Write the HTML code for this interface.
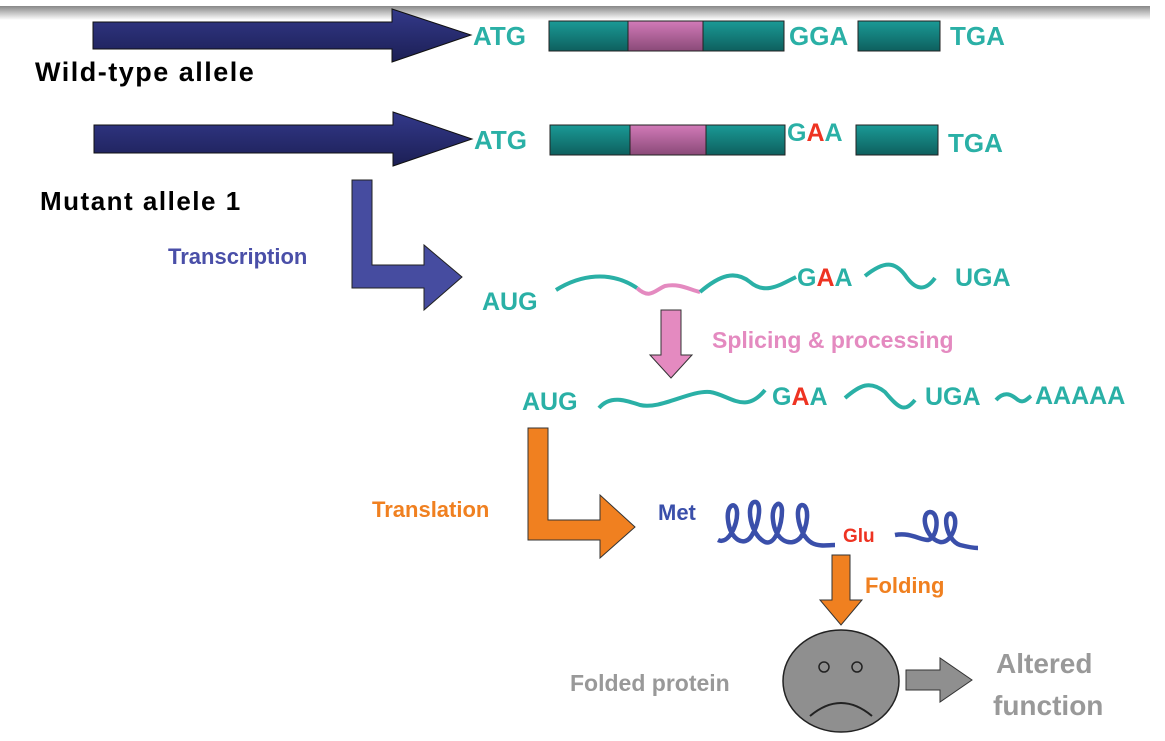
<!DOCTYPE html>
<html><head><meta charset="utf-8"><style>
html,body{margin:0;padding:0;background:#fff;width:1165px;height:741px;overflow:hidden}
svg text{font-family:"Liberation Sans",sans-serif;font-weight:bold}
</style></head><body>
<svg width="1165" height="741" viewBox="0 0 1165 741" xmlns="http://www.w3.org/2000/svg">
<defs>
<linearGradient id="sh" x1="0" y1="0" x2="0" y2="1"><stop offset="0" stop-color="#888"/><stop offset="1" stop-color="#fff"/></linearGradient>
<linearGradient id="tl" x1="0" y1="0" x2="0" y2="1"><stop offset="0" stop-color="#1a9a96"/><stop offset="1" stop-color="#0e5f5e"/></linearGradient>
<linearGradient id="pk" x1="0" y1="0" x2="0" y2="1"><stop offset="0" stop-color="#d27ab8"/><stop offset="1" stop-color="#8a4a78"/></linearGradient>
<linearGradient id="nv" x1="0" y1="0" x2="0" y2="1"><stop offset="0" stop-color="#33398a"/><stop offset="1" stop-color="#1c1f55"/></linearGradient>
</defs>
<rect x="0" y="6" width="1150" height="14" fill="url(#sh)"/>
<polygon points="93,22 392,22 392,9 471,35 392,62 392,49 93,49" fill="url(#nv)" stroke="#111" stroke-width="1"/>
<text x="473" y="45" font-size="26" fill="#2ab0a6">ATG</text>
<rect x="549" y="21" width="235" height="30" fill="url(#tl)" stroke="#222"/>
<rect x="628" y="21" width="75" height="30" fill="url(#pk)" stroke="#222"/>
<text x="789" y="45" font-size="26" fill="#2ab0a6">GGA</text>
<rect x="858" y="21" width="82" height="30" fill="url(#tl)" stroke="#222"/>
<text x="950" y="45" font-size="26" fill="#2ab0a6">TGA</text>
<text x="35" y="81" font-size="27" letter-spacing="1.5" fill="#000">Wild-type allele</text>
<polygon points="94,125 393,125 393,112 472,139 393,166 393,153 94,153" fill="url(#nv)" stroke="#111" stroke-width="1"/>
<text x="474" y="149" font-size="26" fill="#2ab0a6">ATG</text>
<rect x="550" y="125" width="235" height="30" fill="url(#tl)" stroke="#222"/>
<rect x="630" y="125" width="76" height="30" fill="url(#pk)" stroke="#222"/>
<text x="787" y="141" font-size="25" fill="#2ab0a6">G<tspan fill="#ee3322">A</tspan>A</text>
<rect x="856" y="125" width="82" height="30" fill="url(#tl)" stroke="#222"/>
<text x="948" y="152" font-size="26" fill="#2ab0a6">TGA</text>
<text x="40" y="210" font-size="26" letter-spacing="1.5" fill="#000">Mutant allele 1</text>
<polygon points="352,180 372,180 372,265 424,265 424,245 462,277 424,310 424,288 352,288" fill="#464ca0" stroke="#222"/>
<text x="168" y="264" font-size="22" fill="#4a4fa8">Transcription</text>
<text x="482" y="310" font-size="25" fill="#2ab0a6">AUG</text>
<path d="M556,290 C580,275 610,270 637,288" fill="none" stroke="#2ab0a6" stroke-width="4"/>
<path d="M637,288 C650,300 655,290 665,286 C680,283 690,290 700,292" fill="none" stroke="#e48ac0" stroke-width="4"/>
<path d="M700,292 C720,275 735,270 750,282 C765,295 780,285 796,277" fill="none" stroke="#2ab0a6" stroke-width="4"/>
<text x="797" y="286" font-size="25" fill="#2ab0a6">G<tspan fill="#ee3322">A</tspan>A</text>
<path d="M865,276 C885,260 895,262 905,275 C915,290 925,292 935,278" fill="none" stroke="#2ab0a6" stroke-width="4"/>
<text x="955" y="286" font-size="25" fill="#2ab0a6">UGA</text>
<polygon points="661,310 681,310 681,355 692,355 671,378 650,355 661,355" fill="#e48ac0" stroke="#333"/>
<text x="712" y="348" font-size="23" fill="#e48ac0">Splicing &amp; processing</text>
<text x="522" y="410" font-size="25" fill="#2ab0a6">AUG</text>
<path d="M599,408 C610,395 625,400 640,405 C660,410 690,390 710,392 C730,395 745,415 765,390" fill="none" stroke="#2ab0a6" stroke-width="4"/>
<text x="772" y="405" font-size="25" fill="#2ab0a6">G<tspan fill="#ee3322">A</tspan>A</text>
<path d="M845,398 C860,385 870,380 885,392 C900,410 905,412 915,400" fill="none" stroke="#2ab0a6" stroke-width="4"/>
<text x="925" y="405" font-size="25" fill="#2ab0a6">UGA</text>
<path d="M996,400 C1005,390 1012,395 1018,400 C1024,404 1028,398 1031,396" fill="none" stroke="#2ab0a6" stroke-width="4"/>
<text x="1035" y="404" font-size="25" fill="#2ab0a6">AAAAA</text>
<polygon points="528,428 548,428 548,520 600,520 600,495 635,527 600,558 600,540 528,540" fill="#f08020" stroke="#333"/>
<text x="372" y="517" font-size="22" fill="#f08020">Translation</text>
<text x="658" y="520" font-size="22" fill="#3a4faa">Met</text>
<path d="M718,540 C728,545 738,525 737,512 C736,500 726,505 728,520 C730,540 745,548 752,535 C760,522 762,500 754,502 C746,505 750,535 765,542 C775,546 782,525 782,510 C781,498 771,505 773,520 C775,540 790,548 800,538 C808,528 810,505 802,505 C794,506 798,535 812,543 C820,547 828,545 835,545" fill="none" stroke="#3a4faa" stroke-width="4.5"/>
<text x="843" y="542" font-size="19" fill="#ee3322">Glu</text>
<path d="M895,535 C910,532 920,540 928,540 C938,538 940,512 930,512 C920,513 925,538 940,542 C952,544 960,520 952,514 C942,510 945,540 960,545 C968,547 975,548 978,548" fill="none" stroke="#3a4faa" stroke-width="4.5"/>
<polygon points="832,555 850,555 850,600 862,600 841,625 820,600 832,600" fill="#f08020" stroke="#333"/>
<text x="865" y="593" font-size="22" fill="#f08020">Folding</text>
<ellipse cx="841" cy="681" rx="58" ry="51" fill="#8f8f8f" stroke="#222" stroke-width="1.5"/>
<circle cx="824" cy="667" r="5" fill="none" stroke="#222" stroke-width="1.5"/>
<circle cx="857" cy="667" r="5" fill="none" stroke="#222" stroke-width="1.5"/>
<path d="M810,716 Q841,690 872,716" fill="none" stroke="#222" stroke-width="2"/>
<text x="570" y="691" font-size="23" fill="#999">Folded protein</text>
<polygon points="906,670 940,670 940,658 972,680 940,702 940,690 906,690" fill="#8f8f8f" stroke="#333"/>
<text x="996" y="673" font-size="28" fill="#999">Altered</text>
<text x="993" y="715" font-size="28" fill="#999">function</text>
</svg>
</body></html>
